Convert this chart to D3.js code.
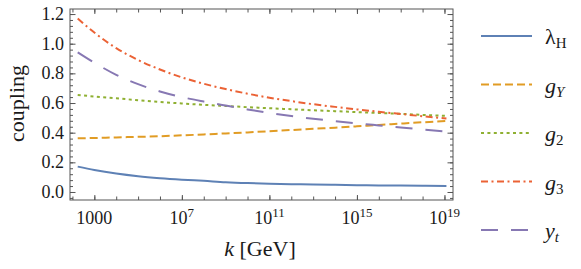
<!DOCTYPE html>
<html>
<head>
<meta charset="utf-8">
<script src="https://cdn.jsdelivr.net/npm/d3@7"></script>
<style>
   body { margin: 0; background: #fff; }
   svg { display: block; }
   svg text { fill: #1a1a1a; }
</style>
</head>
<body>
<div class="chart"></div>
<script>
// exponent of k (GeV), same grid for every coupling
const k_exp = [2.24, 3, 4, 5, 6, 7, 8, 9, 10, 11, 12, 13, 14, 15, 16, 17, 18, 19.09];

const lambda_h = [0.171, 0.148, 0.124, 0.106, 0.093, 0.083, 0.075, 0.066, 0.060, 0.056, 0.053, 0.050, 0.048, 0.046, 0.044, 0.043, 0.042, 0.041];
const g_y      = [0.362, 0.364, 0.368, 0.372, 0.376, 0.382, 0.388, 0.395, 0.402, 0.410, 0.418, 0.426, 0.434, 0.443, 0.452, 0.461, 0.470, 0.479];
const g_2      = [0.654, 0.644, 0.632, 0.619, 0.607, 0.597, 0.588, 0.580, 0.572, 0.565, 0.558, 0.551, 0.545, 0.539, 0.533, 0.527, 0.520, 0.513];
const g_3      = [1.170, 1.075, 0.970, 0.890, 0.826, 0.773, 0.730, 0.694, 0.663, 0.636, 0.613, 0.592, 0.574, 0.557, 0.541, 0.526, 0.511, 0.496];
const y_t      = [0.942, 0.872, 0.790, 0.727, 0.678, 0.640, 0.610, 0.583, 0.557, 0.533, 0.512, 0.494, 0.478, 0.463, 0.449, 0.435, 0.422, 0.408];

// axis ticks
const x_tick_exp = d3.range(2, 20);          // every decade
const x_label_exp = [3, 7, 11, 15, 19];
const y_major = [0, 0.2, 0.4, 0.6, 0.8, 1.0, 1.2];
const y_minor = d3.range(-0.04, 1.24, 0.04).map(d => +d.toFixed(2));

const series = [
   {name: 'lambda', sym: 'λ', sub: 'H', sub_italic: false, values: lambda_h, color: '#5e81b5', dash: null},
   {name: 'gy', sym: 'g', sub: 'Y', sub_italic: true, values: g_y, color: '#e19c24', dash: '8,4'},
   {name: 'g2', sym: 'g', sub: '2', sub_italic: false, values: g_2, color: '#8fb032', dash: '3,3.4'},
   {name: 'g3', sym: 'g', sub: '3', sub_italic: false, values: g_3, color: '#eb6235', dash: '7,3.5,2,3.5'},
   {name: 'yt', sym: 'y', sub: 't', sub_italic: true, values: y_t, color: '#8778b3', dash: '17,13'},
];

const serif = "'Liberation Serif', 'Times New Roman', serif";

function build_container(margin, width, height) {
   return d3.select('.chart')
      .append('svg')
      .attr('width', 581)
      .attr('height', 269)
      .style('font-family', serif)
      .append('g')
      .attr('transform', `translate(${margin.left}, ${margin.top})`);
}

function draw_ticks(container, x_scale, y_scale, width, height) {
   const x_vals = x_tick_exp.map(e => Math.pow(10, e));
   const x_major = x_label_exp.map(e => Math.pow(10, e));

   const add = (axis, transform) => {
      const g = container.append('g').attr('transform', transform).call(axis);
      g.select('.domain').remove();
      g.selectAll('line').attr('stroke', '#555');
      g.selectAll('text').remove();
   };

   // bottom / top decade ticks (inward)
   add(d3.axisBottom(x_scale).tickValues(x_vals).tickSize(-3.5), `translate(0, ${height})`);
   add(d3.axisTop(x_scale).tickValues(x_vals).tickSize(-3.5), 'translate(0, 0)');
   add(d3.axisBottom(x_scale).tickValues(x_major).tickSize(-5), `translate(0, ${height})`);
   add(d3.axisTop(x_scale).tickValues(x_major).tickSize(-5), 'translate(0, 0)');

   // left / right
   add(d3.axisLeft(y_scale).tickValues(y_minor).tickSize(-3), 'translate(0, 0)');
   add(d3.axisRight(y_scale).tickValues(y_minor).tickSize(-3), `translate(${width}, 0)`);
   add(d3.axisLeft(y_scale).tickValues(y_major).tickSize(-5.5), 'translate(0, 0)');
   add(d3.axisRight(y_scale).tickValues(y_major).tickSize(-5.5), `translate(${width}, 0)`);
}

function draw_tick_labels(container, x_scale, y_scale, height) {
   container.append('g')
      .selectAll('text')
      .data(y_major)
      .enter()
      .append('text')
      .attr('x', -6)
      .attr('y', d => y_scale(d))
      .attr('dy', '0.34em')
      .attr('text-anchor', 'end')
      .style('font-family', serif)
      .style('font-size', '18px')
      .text(d => d.toFixed(1));

   const xl = container.append('g')
      .selectAll('text')
      .data(x_label_exp)
      .enter()
      .append('text')
      .attr('x', d => x_scale(Math.pow(10, d)))
      .attr('y', height + 23.5)
      .attr('text-anchor', 'middle')
      .style('font-family', serif)
      .style('font-size', '18px');

   xl.each(function(d) {
      const t = d3.select(this);
      if (d === 3) {
         t.text('1000');
      } else {
         t.append('tspan').text('10');
         t.append('tspan').attr('dy', -7).style('font-size', '13px').text(d);
      }
   });
}

function draw_lines(container, x_scale, y_scale) {
   const line_gen = d3.line()
      .x((d, i) => x_scale(Math.pow(10, k_exp[i])))
      .y(d => y_scale(d))
      .curve(d3.curveMonotoneX);

   container.append('g')
      .selectAll('path')
      .data(series)
      .enter()
      .append('path')
      .attr('d', d => line_gen(d.values))
      .style('fill', 'none')
      .style('stroke', d => d.color)
      .style('stroke-width', 2)
      .style('stroke-dasharray', d => d.dash);
}

function draw_frame(container, width, height) {
   container.append('rect')
      .attr('width', width)
      .attr('height', height)
      .style('fill', 'none')
      .style('stroke', '#555')
      .style('stroke-width', 1);
}

function draw_axis_titles(container, width, height, margin) {
   const xt = container.append('text')
      .attr('x', 190)
      .attr('y', height + 56)
      .attr('text-anchor', 'middle')
      .style('font-family', serif)
      .style('font-size', '22px');
   xt.append('tspan').style('font-style', 'italic').text('k');
   xt.append('tspan').text(' [GeV]');

   container.append('text')
      .attr('transform', `translate(${17 - margin.left + 7}, ${height / 2 - 1}) rotate(-90)`)
      .attr('text-anchor', 'middle')
      .style('font-family', serif)
      .style('font-size', '22px')
      .text('coupling');
}

function draw_legend(svg) {
   const legend = svg.append('g').attr('class', 'legend');
   const rows = legend.selectAll('g')
      .data(series)
      .enter()
      .append('g')
      .attr('transform', (d, i) => `translate(481, ${36 + i * 48.5})`);

   rows.append('line')
      .attr('x1', 0)
      .attr('x2', 51)
      .style('stroke', d => d.color)
      .style('stroke-width', 2)
      .style('stroke-dasharray', d => d.dash);

   const lbl = rows.append('text')
      .attr('x', 64)
      .attr('y', 8)
      .style('font-family', serif)
      .style('font-size', '22px');
   lbl.append('tspan')
      .style('font-style', d => d.sym === 'λ' ? 'normal' : 'italic')
      .text(d => d.sym);
   lbl.append('tspan')
      .attr('dy', 4)
      .style('font-size', '15px')
      .style('font-style', d => d.sub_italic ? 'italic' : 'normal')
      .text(d => d.sub);
}

function main() {
   const margin = {top: 9, left: 70, right: 128, bottom: 69};
   const width = 581 - margin.left - margin.right;   // 383
   const height = 269 - margin.top - margin.bottom;  // 191

   const x_scale = d3.scaleLog()
      .domain([Math.pow(10, 1.888), Math.pow(10, 19.39)])
      .range([0, width]);
   const y_scale = d3.scaleLinear()
      .domain([-0.054, 1.234])
      .range([height, 0]);

   const container = build_container(margin, width, height);
   draw_lines(container, x_scale, y_scale);
   draw_ticks(container, x_scale, y_scale, width, height);
   draw_frame(container, width, height);
   draw_tick_labels(container, x_scale, y_scale, height);
   draw_axis_titles(container, width, height, margin);
   draw_legend(d3.select('.chart svg'));
}

main();
</script>
</body>
</html>
